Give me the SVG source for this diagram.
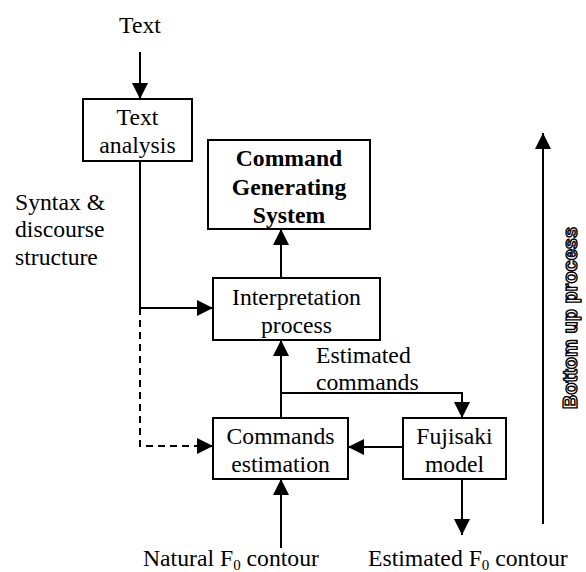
<svg xmlns="http://www.w3.org/2000/svg" width="586" height="572" viewBox="0 0 586 572">
<style>
.box{fill:#fff;stroke:#000;stroke-width:2}
.t{font-family:"Liberation Serif","Times New Roman",serif;font-size:23.7px;fill:#000;text-anchor:middle}
.l{font-family:"Liberation Serif","Times New Roman",serif;font-size:23.7px;fill:#000}
.b{font-weight:bold}
.c{fill:none;stroke:#000;stroke-width:2}
.d{stroke-dasharray:7 5}
.side{font-family:"Liberation Sans",Arial,sans-serif;font-size:20px;font-weight:bold;fill:#fff;stroke:#000;stroke-width:1.4;text-anchor:middle}
</style>
<defs>
<marker id="ah" markerUnits="userSpaceOnUse" markerWidth="16" markerHeight="16" refX="16" refY="8" orient="auto">
<path d="M0,0 L16,8 L0,16 z" fill="#000"/>
</marker>
</defs>
<g id="connectors">
<path class="c" d="M140,52 V99" marker-end="url(#ah)"/>
<path class="c" d="M140,161 V308 H213" marker-end="url(#ah)"/>
<path class="c d" d="M140,308 V446 H213" marker-end="url(#ah)"/>
<path class="c" d="M281,278 V229" marker-end="url(#ah)"/>
<path class="c" d="M281,418 V340" marker-end="url(#ah)"/>
<path class="c" d="M281,393 H462 V418" marker-end="url(#ah)"/>
<path class="c" d="M403,447 H348" marker-end="url(#ah)"/>
<path class="c" d="M281,548 V479" marker-end="url(#ah)"/>
<path class="c" d="M462,479 V535" marker-end="url(#ah)"/>
<path class="c" d="M543,524 V133" marker-end="url(#ah)"/>
</g>
<g id="label-text"><text class="t" x="140" y="33">Text</text></g>
<g id="text-analysis">
<rect class="box" x="83" y="99" width="109" height="62"/>
<text class="t" x="137.5" y="125">Text</text>
<text class="t" x="137.5" y="153">analysis</text>
</g>
<g id="command-generating-system">
<rect class="box" x="208" y="140" width="162" height="89"/>
<text class="t b" x="289" y="166">Command</text>
<text class="t b" x="289" y="195">Generating</text>
<text class="t b" x="289" y="223">System</text>
</g>
<g id="interpretation-process">
<rect class="box" x="213" y="278" width="167" height="62"/>
<text class="t" x="296.5" y="305">Interpretation</text>
<text class="t" x="296.5" y="333">process</text>
</g>
<g id="commands-estimation">
<rect class="box" x="213" y="418" width="135" height="61"/>
<text class="t" x="280.5" y="444">Commands</text>
<text class="t" x="280.5" y="472">estimation</text>
</g>
<g id="fujisaki-model">
<rect class="box" x="403" y="418" width="103" height="61"/>
<text class="t" x="454.5" y="444">Fujisaki</text>
<text class="t" x="454.5" y="472">model</text>
</g>
<g id="label-syntax">
<text class="l" x="15" y="210">Syntax &amp;</text>
<text class="l" x="15" y="237">discourse</text>
<text class="l" x="15" y="265">structure</text>
</g>
<g id="label-estimated-commands">
<text class="l" x="316" y="363">Estimated</text>
<text class="l" x="316" y="390">commands</text>
</g>
<g id="label-natural">
<text class="l" x="143" y="566">Natural F<tspan font-size="15" dy="4">0</tspan><tspan dy="-4"> contour</tspan></text>
</g>
<g id="label-estimated-f0">
<text class="l" x="368" y="566">Estimated F<tspan font-size="15" dy="4">0</tspan><tspan dy="-4"> contour</tspan></text>
</g>
<g id="label-bottom-up">
<text class="side" transform="translate(577,318) rotate(-90)">Bottom up process</text>
</g>
</svg>
